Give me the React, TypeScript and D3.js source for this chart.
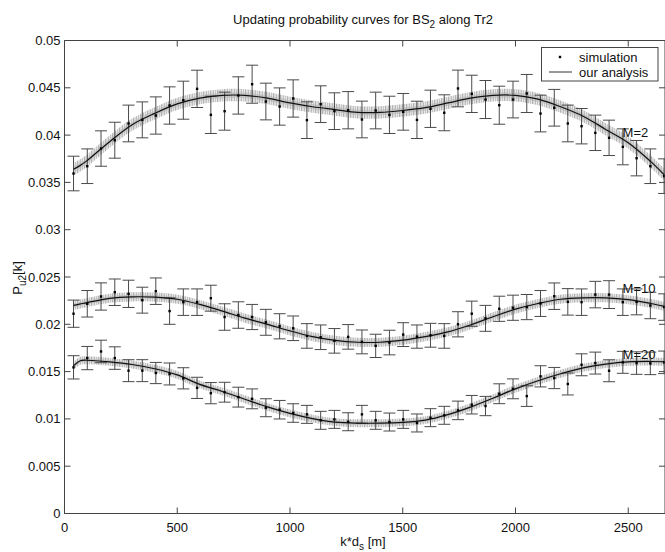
import React from 'react';
import * as d3 from 'd3';

const W = 665;
const H = 552;

const xTicks = [0, 500, 1000, 1500, 2000, 2500];
const yTicks = [0, 0.005, 0.01, 0.015, 0.02, 0.025, 0.03, 0.035, 0.04, 0.045, 0.05];
const yTickLabels = ['0', '0.005', '0.01', '0.015', '0.02', '0.025', '0.03', '0.035', '0.04', '0.045', '0.05'];

// sample positions of the simulated points (k*d_s)
const simK = [40, 101, 162, 223, 284, 345, 405, 466, 527, 588, 649, 710, 771, 832, 893, 954, 1014, 1075,
  1136, 1197, 1258, 1319, 1380, 1441, 1502, 1563, 1623, 1684, 1745, 1806, 1867, 1928, 1989, 2050, 2111,
  2172, 2232, 2293, 2354, 2415, 2476, 2537, 2598, 2659];

const simM2 = [0.03594, 0.03671, 0.03858, 0.03946, 0.04123, 0.04161, 0.04207, 0.04313, 0.04369, 0.04489,
  0.04214, 0.04253, 0.04419, 0.04538, 0.04355, 0.04302, 0.04387, 0.04158, 0.04327, 0.04253, 0.04263,
  0.04165, 0.0426, 0.04214, 0.04246, 0.04161, 0.04278, 0.04236, 0.04493, 0.04436, 0.04376, 0.04316,
  0.04376, 0.0444, 0.04228, 0.04289, 0.04123, 0.04094, 0.04024, 0.03971, 0.03876, 0.03756, 0.03671, 0.03566];
const errM2 = [0.00183, 0.00183, 0.00187, 0.0019, 0.00194, 0.0019, 0.00197, 0.00197, 0.00201, 0.00197,
  0.00197, 0.00201, 0.00197, 0.00201, 0.00194, 0.00197, 0.00197, 0.00194, 0.00194, 0.00194, 0.00197,
  0.00194, 0.00194, 0.00197, 0.00194, 0.00197, 0.00197, 0.0019, 0.00194, 0.00197, 0.00201, 0.00201,
  0.00194, 0.00201, 0.00194, 0.00194, 0.00194, 0.00187, 0.00187, 0.00187, 0.0019, 0.00187, 0.00183, 0.00183];

const simM10 = [0.02112, 0.02217, 0.02294, 0.02339, 0.02322, 0.02255, 0.0235, 0.0214, 0.02234, 0.02234,
  0.02276, 0.02077, 0.02098, 0.02077, 0.02021, 0.01979, 0.01958, 0.01877, 0.01863, 0.01825, 0.01867,
  0.01814, 0.01772, 0.01807, 0.01891, 0.0187, 0.01884, 0.01877, 0.02, 0.02112, 0.02063, 0.02164,
  0.02175, 0.02182, 0.0222, 0.02297, 0.02237, 0.02234, 0.02314, 0.02314, 0.02234, 0.02237, 0.02199, 0.02182];
const errM10 = [0.00144, 0.0014, 0.00144, 0.0014, 0.00144, 0.00137, 0.0014, 0.0014, 0.0014, 0.0014,
  0.00137, 0.0014, 0.0014, 0.00133, 0.00137, 0.00133, 0.0013, 0.0013, 0.0013, 0.0013, 0.0013,
  0.00126, 0.00123, 0.0013, 0.00126, 0.00123, 0.00126, 0.0013, 0.00133, 0.00133, 0.00137, 0.00133,
  0.00133, 0.00133, 0.00137, 0.0014, 0.0014, 0.0014, 0.0014, 0.00147, 0.0014, 0.00137, 0.0014, 0.0014];

const simM20 = [0.01545, 0.01643, 0.01713, 0.01643, 0.0151, 0.0151, 0.01485, 0.01475, 0.01429, 0.01328,
  0.01272, 0.01282, 0.0123, 0.01212, 0.01118, 0.01097, 0.01062, 0.01048, 0.00985, 0.00995, 0.0097,
  0.01048, 0.00985, 0.00967, 0.00995, 0.00957, 0.01013, 0.01038, 0.0109, 0.0115, 0.01136, 0.01266,
  0.01318, 0.01241, 0.0145, 0.01432, 0.01369, 0.01572, 0.0159, 0.01509, 0.01598, 0.0159, 0.01587, 0.01598];
const errM20 = [0.00123, 0.00123, 0.00119, 0.00119, 0.00116, 0.00116, 0.00112, 0.00116, 0.00112, 0.00112,
  0.00112, 0.00105, 0.00105, 0.00105, 0.00095, 0.00098, 0.00098, 0.00095, 0.00095, 0.00095, 0.00095,
  0.00095, 0.00095, 0.00095, 0.00095, 0.00095, 0.00095, 0.00095, 0.00098, 0.00098, 0.00102, 0.00105,
  0.00105, 0.00109, 0.00112, 0.00112, 0.00116, 0.00116, 0.00116, 0.00116, 0.00116, 0.00119, 0.00119, 0.00119];

// analytical curves
const curveK = [40, 70, 100, 200, 300, 400, 500, 600, 700, 800, 900, 1000, 1100, 1200, 1300, 1400, 1500,
  1600, 1700, 1800, 1900, 2000, 2100, 2200, 2300, 2400, 2500, 2600, 2660];
const curveM2 = [0.0364, 0.0368, 0.0373, 0.0393, 0.0411, 0.0423, 0.0433, 0.0439, 0.0442, 0.0442, 0.0439,
  0.0434, 0.043, 0.0427, 0.0424, 0.0424, 0.0426, 0.0429, 0.0434, 0.0439, 0.0442, 0.0442, 0.0438, 0.043,
  0.042, 0.0406, 0.0392, 0.0372, 0.0358];
const curveM10 = [0.022, 0.02215, 0.0223, 0.02275, 0.0229, 0.02287, 0.02265, 0.0221, 0.0214, 0.02065,
  0.02, 0.0193, 0.0187, 0.0183, 0.0181, 0.0181, 0.01832, 0.0187, 0.0192, 0.01993, 0.0208, 0.0216,
  0.0222, 0.02265, 0.0228, 0.0228, 0.0226, 0.0222, 0.0219];
const curveM20 = [0.0156, 0.01615, 0.0162, 0.01603, 0.01575, 0.0153, 0.01465, 0.01365, 0.0129, 0.01208,
  0.01127, 0.01058, 0.01003, 0.00966, 0.00955, 0.00955, 0.00963, 0.00987, 0.01045, 0.01124, 0.01219,
  0.01318, 0.01403, 0.01477, 0.0154, 0.0158, 0.01603, 0.01607, 0.01604];

// half width of the noisy raw simulation trace around each curve
const noiseSpread = [0.00065, 0.00048, 0.00042];
const seriesLabels = ['M=2', 'M=10', 'M=20'];
const labelY = [0.0398, 0.0233, 0.0163];

const font = '"Liberation Sans", Arial, Helvetica, sans-serif';

export default function App() {
  const x = d3.scaleLinear().domain([0, 2663]).range([64.5, 665]);
  const y = d3.scaleLinear().domain([0, 0.05]).range([513.5, 40.5]);
  const [x0, x1] = x.range();
  const [yb, yt] = y.range();

  const series = [
    { sim: simM2, err: errM2, curve: curveM2 },
    { sim: simM10, err: errM10, curve: curveM10 },
    { sim: simM20, err: errM20, curve: curveM20 },
  ];

  const line = d3.line<number>()
    .x((_, i) => x(curveK[i]))
    .y(d => y(d))
    .curve(d3.curveCatmullRom);

  const band = (vals: number[], s: number) => d3.area<number>()
    .x((_, i) => x(curveK[i]))
    .y0(d => y(d - s))
    .y1(d => y(d + s))
    .curve(d3.curveCatmullRom)(vals) as string;

  const axisColor = '#444';
  const tick = 6;

  return (
    <svg width={W} height={H} style={{ position: 'absolute', left: 0, top: 0, background: '#fff' }}
      fontFamily={font}>
      <defs>
        <clipPath id="plot">
          <rect x={x0} y={yt} width={x1 - x0} height={yb - yt} />
        </clipPath>
        <pattern id="noise" width="7" height="20" patternUnits="userSpaceOnUse">
          <rect width="7" height="20" fill="#e8e8e8" />
          <line x1="0.5" y1="0" x2="0.5" y2="20" stroke="#b2b2b2" strokeWidth="1" />
          <line x1="2" y1="0" x2="2" y2="20" stroke="#d0d0d0" strokeWidth="1" />
          <line x1="3.5" y1="0" x2="3.5" y2="20" stroke="#bdbdbd" strokeWidth="1" />
          <line x1="5.5" y1="0" x2="5.5" y2="20" stroke="#c6c6c6" strokeWidth="1" />
        </pattern>
      </defs>

      <g clipPath="url(#plot)">
        {series.map((s, si) => (
          <g key={'band' + si}>
            <path d={band(s.curve, noiseSpread[si])} fill="url(#noise)" />
            <path d={band(s.curve, noiseSpread[si] * 0.45)} fill="#b5b5b5" opacity={0.55} />
          </g>
        ))}
        {series.map((s, si) => (
          <g key={'err' + si} stroke="#4a4a4a" strokeWidth={1}>
            {simK.map((k, i) => {
              const cx = x(k);
              const top = y(s.sim[i] + s.err[i]);
              const bot = y(s.sim[i] - s.err[i]);
              return (
                <g key={i}>
                  <line x1={cx} x2={cx} y1={top} y2={bot} />
                  <line x1={cx - 6} x2={cx + 6} y1={top} y2={top} />
                  <line x1={cx - 6} x2={cx + 6} y1={bot} y2={bot} />
                </g>
              );
            })}
          </g>
        ))}
        {series.map((s, si) => (
          <path key={'curve' + si} d={line(s.curve) as string} fill="none" stroke="#111" strokeWidth={1.2} />
        ))}
        {series.map((s, si) => (
          <g key={'dots' + si} fill="#000">
            {simK.map((k, i) => (
              <rect key={i} x={x(k) - 1.2} y={y(s.sim[i]) - 1.2} width={2.4} height={2.4} />
            ))}
          </g>
        ))}
      </g>

      {/* series labels */}
      {seriesLabels.map((t, i) => (
        <text key={t} x={x(2475)} y={y(labelY[i])} fontSize={13} fill="#111">{t}</text>
      ))}

      {/* frame and ticks */}
      <g stroke={axisColor} strokeWidth={1} fill="none">
        <line x1={x0} x2={x0} y1={yt} y2={yb} />
        <line x1={x0} x2={x1 + 1} y1={yb} y2={yb} />
        <line x1={x0} x2={x1 + 1} y1={yt} y2={yt} />
        <line x1={x1} x2={x1} y1={yt} y2={yb} />
        {xTicks.map(t => (
          <g key={'xt' + t}>
            <line x1={x(t)} x2={x(t)} y1={yb} y2={yb - tick} />
            <line x1={x(t)} x2={x(t)} y1={yt} y2={yt + tick} />
          </g>
        ))}
        {yTicks.map(t => (
          <g key={'yt' + t}>
            <line x1={x0} x2={x0 + tick} y1={y(t)} y2={y(t)} />
            <line x1={x1} x2={x1 - tick} y1={y(t)} y2={y(t)} />
          </g>
        ))}
      </g>

      <g fontSize={13} fill="#111">
        {xTicks.map(t => (
          <text key={'xl' + t} x={x(t)} y={yb + 18} textAnchor="middle">{t}</text>
        ))}
        {yTicks.map((t, i) => (
          <text key={'yl' + t} x={x0 - 4} y={y(t) + 4.5} textAnchor="end">{yTickLabels[i]}</text>
        ))}
      </g>

      {/* title and axis labels */}
      <text x={363} y={24} fontSize={13} textAnchor="middle" fill="#111">
        Updating probability curves for BS<tspan fontSize={10} dy={4}>2</tspan>
        <tspan dy={-4}> along Tr2</tspan>
      </text>
      <text x={363} y={546} fontSize={13} textAnchor="middle" fill="#111">
        k*d<tspan fontSize={10} dy={4}>s</tspan><tspan dy={-4}> [m]</tspan>
      </text>
      <text transform="translate(22,278) rotate(-90)" fontSize={13} textAnchor="middle" fill="#111">
        P<tspan fontSize={10} dy={4}>u2</tspan><tspan dy={-4}>[k]</tspan>
      </text>

      {/* legend */}
      <g>
        <rect x={541.5} y={47.5} width={116.5} height={33.5} fill="#fff" stroke={axisColor} strokeWidth={1} />
        <rect x={558.8} y={55.8} width={2.4} height={2.4} fill="#000" />
        <line x1={549} x2={572} y1={72} y2={72} stroke="#333" strokeWidth={1} />
        <text x={579} y={62} fontSize={13} fill="#111">simulation</text>
        <text x={579} y={77} fontSize={13} fill="#111">our analysis</text>
      </g>
    </svg>
  );
}
